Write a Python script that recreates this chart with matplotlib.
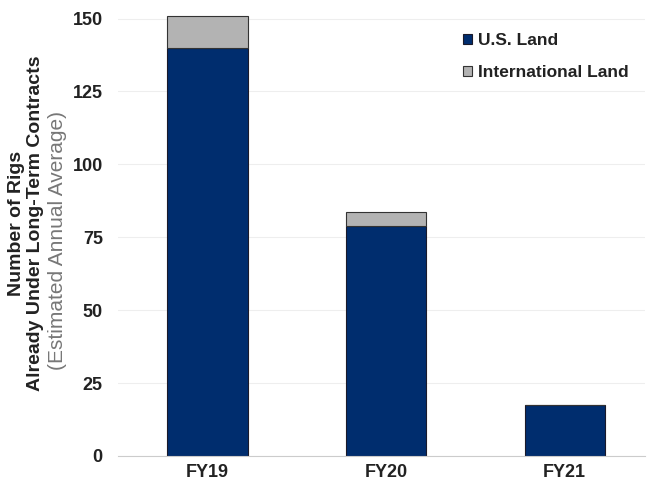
import matplotlib
matplotlib.use('Agg')
import matplotlib.pyplot as plt
import numpy as np

plt.rcParams['font.family'] = ['Liberation Sans Narrow', 'Liberation Sans', 'DejaVu Sans']

years = ['FY19', 'FY20', 'FY21']
us_land = [140, 79, 17.5]
intl_land = [11, 4.5, 0]
yticks = [0, 25, 50, 75, 100, 125, 150]

navy = '#002d6e'
grey = '#b3b3b3'

fig = plt.figure(figsize=(6.49, 4.97), dpi=100)
ax = fig.add_axes([0.182, 0.0825, 0.812, 0.892])

x = np.arange(len(years))
ax.bar(x, us_land, width=0.45, color=navy, edgecolor='#1a1a2a', linewidth=0.8,
       label='U.S. Land', zorder=3)
ax.bar(x, intl_land, width=0.45, bottom=us_land, color=grey, edgecolor='#333333',
       linewidth=0.8, label='International Land', zorder=3)

ax.set_xlim(-0.5, 2.45)
ax.set_ylim(0, 152)
ax.set_yticks(yticks)
ax.set_xticks(x)
ax.set_xticklabels(years)
ax.yaxis.grid(True, color='#eeeeee', linewidth=0.8, zorder=0)
ax.tick_params(length=0, labelsize=13)
ax.tick_params(axis='y', pad=11)
ax.tick_params(axis='x', pad=6)
for lab in ax.get_xticklabels() + ax.get_yticklabels():
    lab.set_fontweight('bold')
    lab.set_color('#222222')
for s in ['top', 'right', 'left']:
    ax.spines[s].set_visible(False)
ax.spines['bottom'].set_color('#cccccc')
ax.spines['bottom'].set_zorder(4)

leg = ax.legend(loc='upper left', bbox_to_anchor=(0.625, 0.99), frameon=False,
                handlelength=0.5, handleheight=0.5, handletextpad=0.35,
                labelspacing=1.0, prop={'size': 12.5, 'weight': 'bold'})
for t in leg.get_texts():
    t.set_color('#222222')

fig.text(0.025, 0.55, 'Number of Rigs', rotation=90, ha='center', va='center',
         fontsize=14, fontweight='bold', color='#222222')
fig.text(0.055, 0.55, 'Already Under Long-Term Contracts', rotation=90, ha='center',
         va='center', fontsize=14, fontweight='bold', color='#222222')
fig.text(0.089, 0.517, '(Estimated Annual Average)', rotation=90, ha='center',
         va='center', fontsize=15, color='#777777')

fig.savefig('out.png', dpi=100)
